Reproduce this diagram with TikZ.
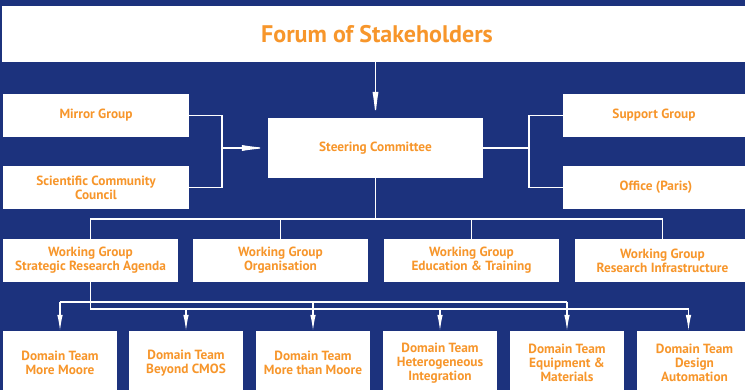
\documentclass[tikz,border=0pt]{standalone}
\usepackage{fontspec}
\setmainfont{PT Sans}
\usetikzlibrary{arrows.meta,calc}
\definecolor{navy}{RGB}{28,50,125}
\definecolor{orng}{RGB}{247,150,43}
\tikzset{
  box/.style={fill=white,inner sep=0pt,align=center,text=orng,font=\bfseries\fontsize{13.3}{14}\selectfont},
  conn/.style={draw=white,line width=1.2pt},
  arr/.style={conn,-{Latex[length=16pt,width=5.5pt]}},
  larr/.style={conn,-{Latex[length=26pt,width=6pt]}}
}
\newcommand{\bx}[6]{\node[box,minimum width=#4-#2,minimum height=#5-#3] (#1) at ({(#2+#4)/2},{(#3+#5)/2}) {#6};}
\begin{document}
\begin{tikzpicture}[x=1pt,y=-1pt]
\useasboundingbox (0,0) rectangle (745,390);
\clip (0,0) rectangle (745,390);
\fill[navy] (0,0) rectangle (745,390);
\node[box,minimum width=750,minimum height=56,font=\bfseries\fontsize{24}{28}\selectfont] (forum) at (377,34) {Forum of Stakeholders};
\bx{mirror}{3}{94}{189}{137}{Mirror Group}
\bx{scc}{3}{166}{189}{209}{Scientific Community\\Council}
\bx{steer}{268}{118}{483}{178}{Steering Committee}
\bx{support}{563}{94}{745}{137}{Support Group}
\bx{office}{563}{166}{749}{209}{Office (Paris)}
\bx{wga}{3}{239}{178}{282}{Working Group\\Strategic Research Agenda}
\bx{wgb}{193}{239}{368}{282}{Working Group\\Organisation}
\bx{wgc}{384}{239}{559}{282}{Working Group\\Education \& Training}
\bx{wgd}{575}{239}{750}{282}{Working Group\\Research Infrastructure}
\bx{dta}{3}{331}{117}{395}{Domain Team\\More Moore}
\bx{dtb}{129}{331}{243}{395}{Domain Team\\Beyond CMOS}
\bx{dtc}{256}{331}{370}{395}{Domain Team\\More than Moore}
\bx{dtd}{383}{331}{497}{395}{Domain Team\\Heterogeneous\\Integration}
\bx{dte}{510}{331}{624}{395}{Domain Team\\Equipment \&\\Materials}
\bx{dtf}{637}{331}{752}{395}{Domain Team\\Design\\Automation}
% coordinates
\coordinate (jl) at (222,148);
\coordinate (jr) at (529,148);
\coordinate (bus) at (375.5,219);
\coordinate (upbus) at (0,302);
\coordinate (lobus) at (0,309);
\coordinate (dtfin) at ([xshift=-6pt]dtf.north);
% top
\draw[larr] (forum.south -| steer.north) -- (steer.north);
\draw[conn] (mirror.east) -| (jl) |- (scc.east);
\draw[larr] (jl) -- (steer.west);
\draw[conn] (steer.east) -- (jr);
\draw[conn] (support.west) -| (jr) |- (office.west);
% working groups
\draw[conn] (steer.south) -- (bus);
\draw[conn] (wga.north) |- (wgd.north |- bus) -- (wgd.north);
\draw[conn] (wgb.north) -- (wgb.north |- bus);
\draw[conn] (wgc.north) -- (wgc.north |- bus);
% domain teams
\draw[conn] (dta.north |- upbus) -- (dte.north |- upbus);
\draw[conn] (wga.south) -- (wga.south |- lobus) -- (dtfin |- lobus);
\draw[arr] (dta.north |- upbus) -- (dta.north);
\draw[arr] (dtc.north |- upbus) -- (dtc.north);
\draw[arr] (dte.north |- upbus) -- (dte.north);
\draw[arr] (dtb.north |- lobus) -- (dtb.north);
\draw[arr] (dtd.north |- lobus) -- (dtd.north);
\draw[arr] (dtfin |- lobus) -- (dtfin);
\end{tikzpicture}
\end{document}
